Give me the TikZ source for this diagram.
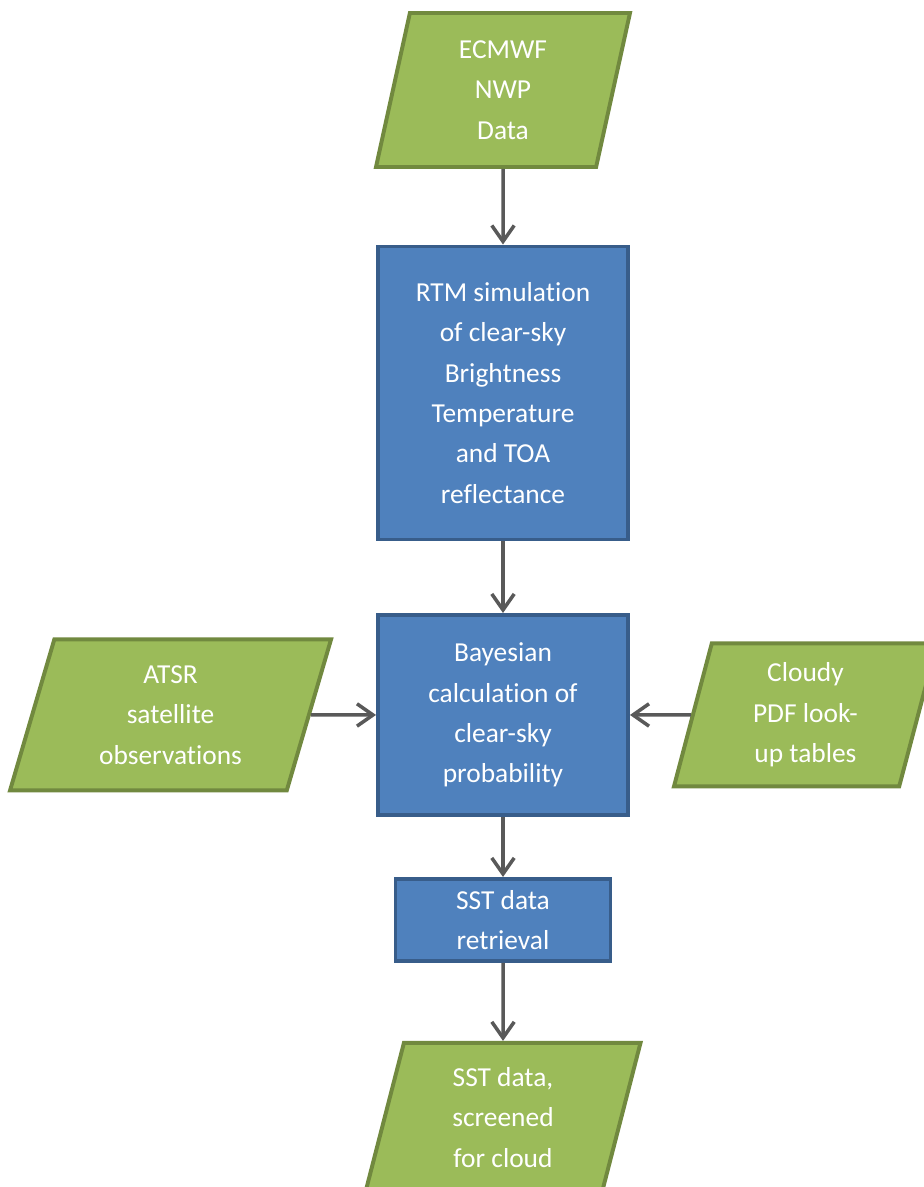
\documentclass[tikz,border=0pt]{standalone}
\usepackage{fontspec}
\setmainfont{Carlito}[Ligatures=NoCommon]
\usepackage{tikz}
\usetikzlibrary{arrows.meta,positioning,shapes.geometric}
\definecolor{boxblue}{HTML}{4F81BD}
\definecolor{boxblueline}{HTML}{385D8A}
\definecolor{iogreen}{HTML}{9BBB59}
\definecolor{iogreenline}{HTML}{71893F}
\definecolor{arrowgrey}{HTML}{595959}
\tikzstyle{procbox} = [draw=boxblueline, fill=boxblue, line width=2.8pt, text=white,
align=center, font=\fontsize{19.5}{28.7}\selectfont]
\tikzstyle{iobox} = [trapezium, trapezium left angle=72, trapezium right angle=108,
trapezium stretches body, draw=iogreenline, fill=iogreen, line width=2.8pt, text=white,
align=center, inner sep=2pt, font=\fontsize{19.5}{28.7}\selectfont]
\tikzstyle{flow} = [draw, line width=2.5pt, color=arrowgrey, -{Straight Barb[length=4mm,width=5.6mm]}]
\newcommand{\procbox}[3]{node (p#1)[procbox,#2]{#3}}
\newcommand{\iobox}[3]{node (p#1)[iobox,#2]{#3}}

\begin{document}
\begin{tikzpicture}
	\useasboundingbox (0,0) rectangle (23.1,29.675);
	
	% Main column
	\path (12.575,27.425) \iobox{1}{minimum width=6.35cm, minimum height=3.85cm}{ECMWF\\NWP\\Data};
	\path (p1.center)+(0,-7.575) \procbox{2}{minimum width=6.25cm, minimum height=7.325cm}{RTM simulation\\of clear-sky\\Brightness\\Temperature\\and TOA\\reflectance};
	\path (p2.south)+(0,-4.3375) \procbox{3}{minimum width=6.25cm, minimum height=5cm}{Bayesian\\calculation of\\clear-sky\\probability};
	\path (p3.south)+(0,-2.575) \procbox{6}{minimum width=5.375cm, minimum height=2.05cm}{SST data\\retrieval};
	\path (p6.south)+(0,-3.8625) \iobox{7}{minimum width=6.875cm, minimum height=3.725cm, trapezium left angle=70, trapezium right angle=110}{SST data,\\screened\\for cloud};
	
	% Side inputs
	\path (p3.west)+(-5.1375,0) \iobox{4}{minimum width=8.025cm, minimum height=3.775cm, trapezium left angle=67, trapezium right angle=113}{ATSR\\satellite\\observations};
	\path (p3.east)+(4.3875,0) \iobox{5}{minimum width=6.575cm, minimum height=3.575cm, trapezium left angle=71, trapezium right angle=109}{Cloudy\\PDF look-\\up tables};
	
	% Connectors
	\path [flow] (p1) -- (p2);
	\path [flow] (p2) -- (p3);
	\path [flow] (p4) -- (p3);
	\path [flow] (p5) -- (p3);
	\path [flow] (p3) -- (p6);
	\path [flow] (p6) -- (p7);
	
\end{tikzpicture}
\end{document}
